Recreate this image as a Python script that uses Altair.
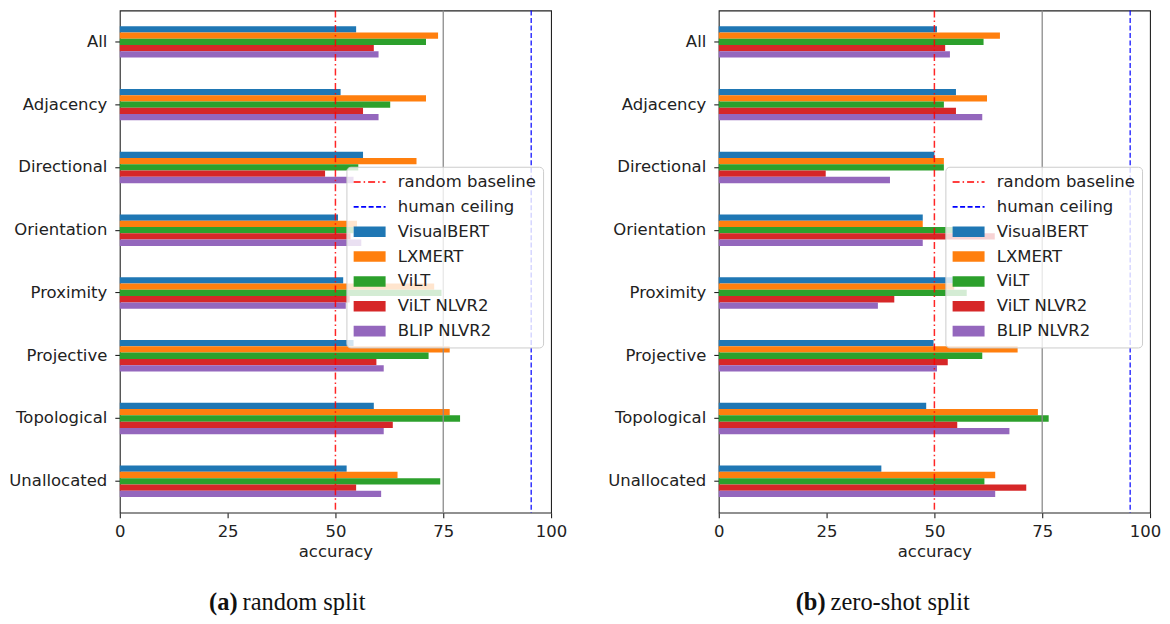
import altair as alt
import pandas as pd

# ---------------- data ----------------
categories = ["All", "Adjacency", "Directional", "Orientation",
              "Proximity", "Projective", "Topological", "Unallocated"]
models = ["VisualBERT", "LXMERT", "ViLT", "ViLT NLVR2", "BLIP NLVR2"]
model_colors = ["#1f77b4", "#ff7f0e", "#2ca02c", "#d62728", "#9467bd"]

# (a) random split  -- one list per model, in category order
random_visualbert = [54.8, 51.2, 56.4, 50.6, 51.8, 54.2, 58.9, 52.6]
random_lxmert     = [73.8, 71.0, 68.8, 55.0, 72.9, 76.5, 76.5, 64.4]
random_vilt       = [71.0, 62.7, 55.3, 54.2, 74.6, 71.6, 78.9, 74.3]
random_vilt_nlvr2 = [58.9, 56.4, 47.6, 53.5, 53.3, 59.5, 63.3, 54.8]
random_blip_nlvr2 = [60.0, 60.0, 54.2, 56.0, 52.4, 61.2, 61.2, 60.6]

# (b) zero-shot split
zeroshot_visualbert = [50.6, 55.0, 50.0, 47.3, 58.9, 49.8, 48.1, 37.7]
zeroshot_lxmert     = [65.2, 62.2, 52.2, 47.3, 54.6, 69.3, 74.0, 64.1]
zeroshot_vilt       = [61.4, 52.2, 52.2, 59.1, 57.5, 61.1, 76.5, 61.6]
zeroshot_vilt_nlvr2 = [52.5, 55.0, 24.8, 64.0, 40.7, 53.1, 55.3, 71.3]
zeroshot_blip_nlvr2 = [53.6, 61.1, 39.7, 47.3, 36.9, 50.6, 67.4, 64.1]

line_names = ["random baseline", "human ceiling"]
line_values = [50, 95.4]
line_colors = ["#ff0000", "#0000ff"]
line_dashes = [[7, 3, 1.5, 3], [5, 2.5]]
gray_line = [75]
x_ticks = [0, 25, 50, 75, 100]
captions = [("(a)", "random split"), ("(b)", "zero-shot split")]

legend_names = line_names + models
legend_colors = line_colors + model_colors

FONT = "DejaVu Sans"
FS = 16.5


# ---------------- legend symbol shapes (style only) ----------------
# symbolSize 256 -> one path unit = 8 px; symbols are 32 px wide
def dash_path(pattern, length=32.0, thick=1.6):
    parts = []
    pos, i = 0.0, 0
    h = thick / 16.0
    while pos < length - 1e-9:
        seg = pattern[i % len(pattern)]
        end = min(pos + seg, length)
        if i % 2 == 0:
            x0 = pos / 8.0 - 2
            x1 = end / 8.0 - 2
            parts.append(f"M{x0:.4f},{-h:.4f}H{x1:.4f}V{h:.4f}H{x0:.4f}Z")
        pos = end
        i += 1
    return "".join(parts)


rect_path = "M-2,-0.66H2V0.66H-2Z"
legend_shapes = [dash_path(d) for d in line_dashes] + [rect_path] * len(models)

legend = alt.Legend(
    orient="none", legendX=227, legendY=156.5, title=None,
    padding=7, fillColor="rgba(255,255,255,0.8)", strokeColor="#cccccc",
    cornerRadius=4, labelFont=FONT, labelFontSize=FS,
    labelColor="#222222", symbolOffset=8, labelOffset=20, rowPadding=7.9,
    symbolSize=256, symbolOpacity=1, symbolStrokeWidth=0,
)


def panel(split_values, cap, last_label_shift):
    rows = []
    for m, vals in zip(models, split_values):
        for c, v in zip(categories, vals):
            rows.append({"category": c, "model": m, "accuracy": v})
    df = pd.DataFrame(rows)
    lines_df = pd.DataFrame({"model": line_names, "accuracy": line_values})
    key_df = pd.DataFrame({"model": legend_names})

    color_scale = alt.Scale(domain=legend_names, range=legend_colors)
    shape_scale = alt.Scale(domain=legend_names, range=legend_shapes)
    x = alt.X("accuracy:Q",
              scale=alt.Scale(domain=[0, 100], nice=False, zero=True),
              axis=alt.Axis(values=x_ticks, title="accuracy", labelPadding=5.5,
                            titlePadding=4, labelFlush=False, labelOverlap=False,
                            format="d",
                            labelOffset={"condition": {"test": "datum.value == 100",
                                                       "value": last_label_shift},
                                         "value": 0}))

    # invisible key layer that carries the single combined legend
    key = alt.Chart(key_df).mark_point(filled=True, opacity=0, size=1).encode(
        color=alt.Color("model:N", scale=color_scale, legend=legend),
        shape=alt.Shape("model:N", scale=shape_scale, legend=legend),
    )
    bars = alt.Chart(df).mark_bar().encode(
        x=x,
        y=alt.Y("category:N", sort=categories,
                scale=alt.Scale(paddingInner=0.5, paddingOuter=0.25),
                axis=alt.Axis(title=None, labelPadding=8)),
        yOffset=alt.YOffset("model:N", sort=models,
                            scale=alt.Scale(paddingInner=0, paddingOuter=0)),
        color=alt.Color("model:N", scale=color_scale, legend=legend),
    )
    gray = alt.Chart(pd.DataFrame({"accuracy": gray_line})).mark_rule(
        color="#8c8c8c", strokeWidth=1.3).encode(x="accuracy:Q")
    red = alt.Chart(lines_df).transform_filter(
        alt.datum.model == line_names[0]).mark_rule(
        color=line_colors[0], strokeWidth=1.5, strokeDash=line_dashes[0],
        opacity=0.85).encode(x="accuracy:Q")
    blue = alt.Chart(lines_df).transform_filter(
        alt.datum.model == line_names[1]).mark_rule(
        color=line_colors[1], strokeWidth=1.5, strokeDash=line_dashes[1],
        opacity=0.8).encode(x="accuracy:Q")

    cap_df = pd.DataFrame({"bold": [cap[0]], "rest": [cap[1]]})
    cap_bold = alt.Chart(cap_df).mark_text(
        font="Liberation Serif", fontSize=24.5, fontWeight="bold",
        align="right", baseline="alphabetic", color="#111111").encode(
        text="bold:N", x=alt.value(cap_x[cap[0]]), y=alt.value(601))
    cap_rest = alt.Chart(cap_df).mark_text(
        font="Liberation Serif", fontSize=24.5, fontWeight="normal",
        align="left", baseline="alphabetic", color="#111111").encode(
        text="rest:N", x=alt.value(cap_x[cap[0]] + 5), y=alt.value(601))

    return alt.layer(key, bars, gray, red, blue, cap_bold, cap_rest).properties(
        width=432, height=503)


cap_x = {"(a)": 118, "(b)": 107}

left = panel([random_visualbert, random_lxmert, random_vilt,
              random_vilt_nlvr2, random_blip_nlvr2], captions[0], 0)
right = panel([zeroshot_visualbert, zeroshot_lxmert, zeroshot_vilt,
               zeroshot_vilt_nlvr2, zeroshot_blip_nlvr2], captions[1], -5)

chart = alt.hconcat(left, right, spacing=168, bounds="flush").resolve_scale(
    color="independent", shape="independent"
).properties(
    padding={"left": 0, "top": 0, "right": 0, "bottom": 0},
    background="white",
).configure_view(
    stroke="#222222", strokeWidth=1.1
).configure_axis(
    domain=False, grid=False, tickColor="#222222", tickSize=5, tickWidth=1.1,
    labelFont=FONT, labelFontSize=FS, labelColor="#222222",
    titleFont=FONT, titleFontSize=FS, titleFontWeight="normal",
    titleColor="#222222",
)

chart.save("out.html", embed_options={"renderer": "svg", "actions": False})
